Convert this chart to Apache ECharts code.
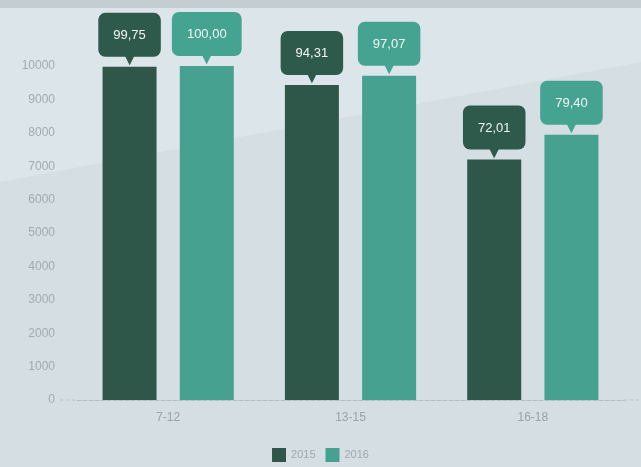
<!DOCTYPE html>
<html><head><meta charset="utf-8">
<script src="https://cdn.jsdelivr.net/npm/echarts@6/dist/echarts.min.js"></script>
<style>html,body{margin:0;padding:0;}#c{width:641px;height:467px;}</style>
</head><body><div id="c"></div>
<script>
const categories = ['7-12', '13-15', '16-18'];
const seriesNames = ['2015', '2016'];
const values2015 = [9975, 9431, 7201];
const values2016 = [10000, 9707, 7940];
const yTicks = [0, 1000, 2000, 3000, 4000, 5000, 6000, 7000, 8000, 9000, 10000];

const colors = ['#2e5749', '#46a190'];
const fmt = v => (v / 100).toFixed(2).replace('.', ',');

function makeLabel(color) {
  return {
    show: true,
    position: 'top',
    distance: 3,
    formatter: p => '{box|' + fmt(p.value) + '}\n{arr|▼}',
    rich: {
      box: {
        backgroundColor: color,
        borderRadius: 7,
        padding: [16, 15, 15, 15],
        color: '#f2f6f5',
        fontSize: 13,
        fontFamily: 'Liberation Sans, Arial, sans-serif',
        align: 'center'
      },
      arr: {
        color: color,
        fontSize: 18,
        lineHeight: 7,
        height: 7,
        align: 'center'
      }
    }
  };
}

const chart = echarts.init(document.getElementById('c'));
chart.setOption({
  animation: false,
  backgroundColor: '#d4dee3',
  graphic: [
    { type: 'polygon', z: -10, shape: { points: [[0, 0], [641, 0], [641, 62], [0, 182]] }, style: { fill: '#dce5e9' } },
    { type: 'rect', z: -9, shape: { x: 0, y: 0, width: 641, height: 8 }, style: { fill: '#c3cdd2' } },
    { type: 'line', z: -5, shape: { x1: 60, y1: 400, x2: 77, y2: 400 }, style: { stroke: '#b3bec3', lineDash: [3, 3], lineWidth: 1 } },
    { type: 'line', z: -5, shape: { x1: 624, y1: 400, x2: 641, y2: 400 }, style: { stroke: '#b3bec3', lineDash: [3, 3], lineWidth: 1 } }
  ],
  color: colors,
  grid: { left: 77, right: 17, top: 66, bottom: 67 },
  legend: {
    bottom: 0,
    left: 'center',
    itemWidth: 14,
    itemHeight: 14,
    itemGap: 10,
    icon: 'rect',
    data: seriesNames,
    textStyle: { color: '#a0a8ad', fontSize: 11, fontFamily: 'Liberation Sans, Arial, sans-serif' }
  },
  xAxis: {
    type: 'category',
    data: categories,
    axisTick: { show: false },
    axisLine: { lineStyle: { color: '#b3bec3', type: 'dashed' } },
    axisLabel: { color: '#99a3a8', fontSize: 12, margin: 12, fontFamily: 'Liberation Sans, Arial, sans-serif' }
  },
  yAxis: {
    type: 'value',
    min: yTicks[0],
    max: yTicks[yTicks.length - 1],
    interval: 1000,
    splitLine: { show: false },
    axisLine: { show: false },
    axisTick: { show: false },
    axisLabel: { color: '#a3abb0', fontSize: 12, margin: 22, formatter: v => String(v), fontFamily: 'Liberation Sans, Arial, sans-serif' }
  },
  series: [
    { name: seriesNames[0], type: 'bar', data: values2015, barWidth: 54, barGap: '43%', itemStyle: { color: colors[0] }, label: makeLabel('#2d5a4a') },
    { name: seriesNames[1], type: 'bar', data: values2016, barWidth: 54, barGap: '43%', itemStyle: { color: colors[1] }, label: makeLabel('#45a392') }
  ]
});
</script></body></html>
